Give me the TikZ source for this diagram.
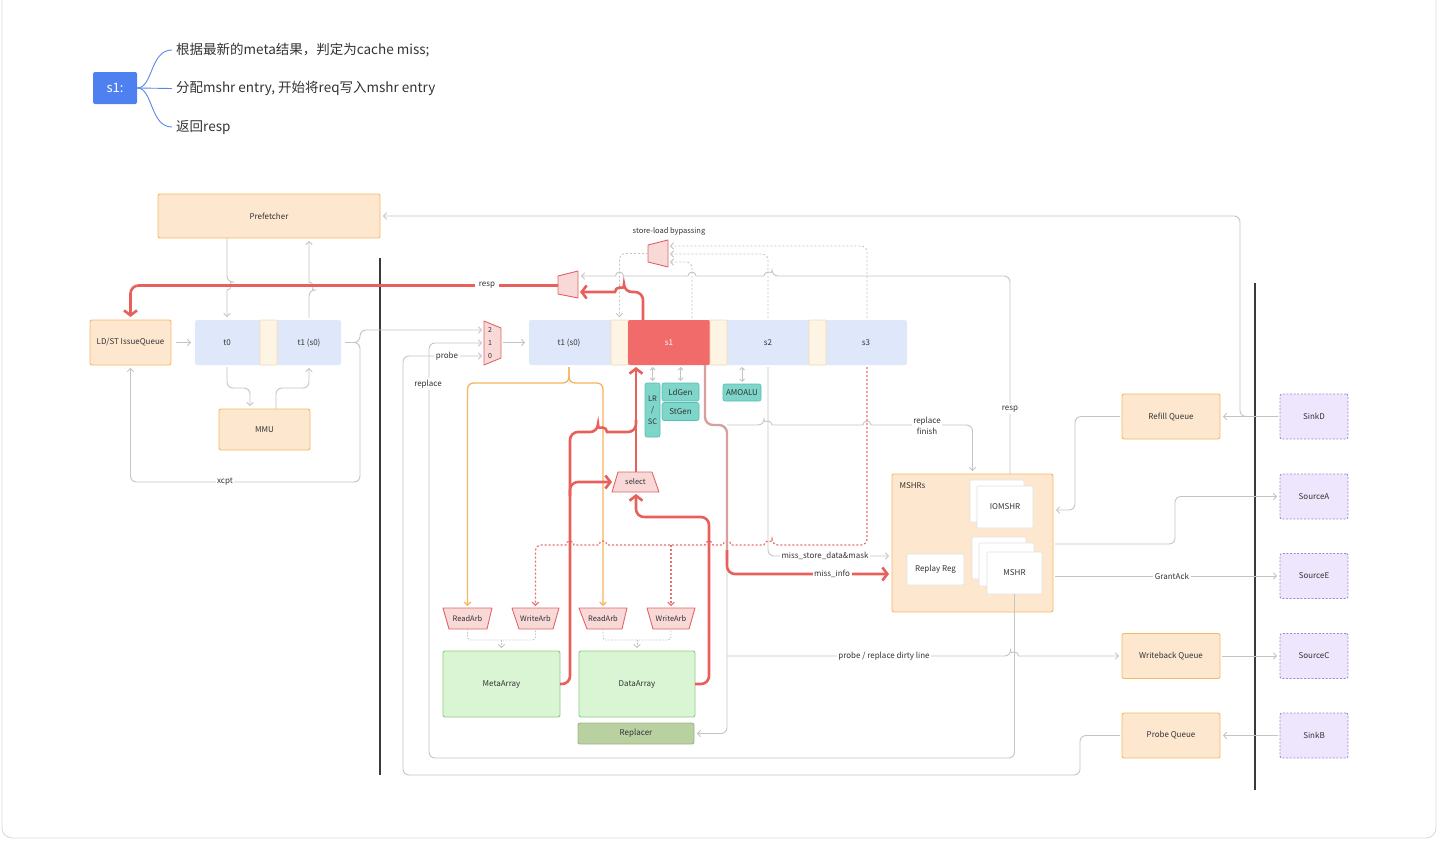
\documentclass[tikz,border=0pt]{standalone}
\usepackage{fontspec}
\setmainfont{Noto Sans CJK SC}
\usetikzlibrary{arrows.meta}
\definecolor{wire}{HTML}{C4C4C4}
\definecolor{hotc}{HTML}{E8605C}
\definecolor{rosec}{HTML}{D9A0A0}
\definecolor{ambc}{HTML}{F5B45F}
\definecolor{ofill}{HTML}{FDE7CF}
\definecolor{oedge}{HTML}{F5B86A}
\definecolor{pipe}{HTML}{DFE8FB}
\definecolor{latch}{HTML}{FDF4E3}
\definecolor{ledge}{HTML}{F3D9B1}
\definecolor{sred}{HTML}{F26B6B}
\definecolor{gfill}{HTML}{DAF5D4}
\definecolor{gedge}{HTML}{8ECB84}
\definecolor{olive}{HTML}{B9D0A1}
\definecolor{oledge}{HTML}{9DB884}
\definecolor{tfill}{HTML}{7ED5CA}
\definecolor{tedge}{HTML}{57BDB0}
\definecolor{vfill}{HTML}{EEE6FD}
\definecolor{vedge}{HTML}{A287D8}
\definecolor{mfill}{HTML}{F9D8D8}
\definecolor{medge}{HTML}{E06666}
\definecolor{ink}{HTML}{333333}
\definecolor{lblue}{HTML}{4F80F0}
\definecolor{lbranch}{HTML}{5B87E8}
\definecolor{framec}{HTML}{DADADA}
\definecolor{wedge}{HTML}{E2E2E2}
\definecolor{divider}{HTML}{3A3A3A}
\tikzset{
  lab/.style={font=\fontsize{8}{9.5}\selectfont, text=ink},
  tag/.style={lab, fill=white, inner sep=1.5pt},
  blk/.style={lab, rounded corners=2pt, inner sep=0pt, outer sep=0pt, line width=0.9pt},
  ob/.style={blk, draw=oedge, fill=ofill},
  vb/.style={blk, draw=vedge, fill=vfill, dash pattern=on 2pt off 1.6pt},
  gb/.style={blk, draw=gedge, fill=gfill},
  tb/.style={blk, draw=tedge, fill=tfill, line width=0.6pt},
  wb/.style={blk, draw=wedge, fill=white, line width=0.6pt, rounded corners=1pt},
  pipeblk/.style={blk, fill=pipe},
  latchbox/.style={blk, fill=latch, draw=ledge, line width=0.6pt, rounded corners=0.5pt, minimum width=17, minimum height=45},
  muxshape/.style={draw=medge, fill=mfill, line width=0.9pt, line join=round},
  cable/.style={draw=wire, line width=0.9pt, rounded corners=6pt},
  carr/.style={cable, -{Straight Barb[length=3pt,width=6.5pt]}},
  cdash/.style={cable, dash pattern=on 2pt off 2pt, -{Straight Barb[length=3pt,width=6.5pt]}},
  hot/.style={draw=hotc, line width=2.6pt, rounded corners=8pt},
  hotarr/.style={hot, -{Straight Barb[length=5pt,width=13pt]}},
  amb/.style={draw=ambc, line width=1.3pt, rounded corners=6pt, -{Straight Barb[length=3pt,width=6.5pt]}},
  dots/.style={draw=hotc!90, line width=1.2pt, dash pattern=on 2pt off 2pt, rounded corners=6pt},
  darr/.style={dots, -{Straight Barb[length=3pt,width=6.5pt]}},
}
\begin{document}
\begin{tikzpicture}[x=1pt,y=-1pt]
\useasboundingbox (0,0) rectangle (1441,841);
% page frame
\draw[framec, line width=0.9pt, rounded corners=10pt] (2,-20) rectangle (1436,838);

% ---------- stage note ----------
\node[fill=lblue, rounded corners=2pt, minimum width=44, minimum height=32, inner sep=0pt,
      text=white, font=\fontsize{13}{14}\selectfont] (leg) at (115,88) {s1:};
\draw[lbranch, line width=0.9pt] (leg.east) .. controls (153,88) and (150,50) .. (172,50);
\draw[lbranch, line width=0.9pt] (leg.east) -- (172,88.5);
\draw[lbranch, line width=0.9pt] (leg.east) .. controls (153,88) and (150,127) .. (172,127);
\node[anchor=west, inner sep=0pt, font=\fontsize{13.5}{15}\selectfont, text=ink] (n1) at (176,50) {根据最新的meta结果，判定为cache miss;};
\node[anchor=west, inner sep=0pt, font=\fontsize{13.5}{15}\selectfont, text=ink] (n2) at (176,88.5) {分配mshr entry, 开始将req写入mshr entry};
\node[anchor=west, inner sep=0pt, font=\fontsize{13.5}{15}\selectfont, text=ink] (n3) at (176,127) {返回resp};

% ---------- dividers ----------
\draw[divider, line width=1.6pt] (380,258) -- (380,775);
\draw[divider, line width=1.6pt] (1255,283) -- (1255,790);

% ---------- front end ----------
\node[ob, minimum width=222, minimum height=44] (pref) at (269,216) {Prefetcher};
\node[ob, minimum width=81, minimum height=45] (lsq) at (130.5,342.5) {LD/ST IssueQueue};
\node[ob, minimum width=91, minimum height=41] (mmu) at (264.5,429.5) {MMU};
\node[pipeblk, minimum width=146, minimum height=45] (front) at (268,342.5) {};
\node[latchbox] (lat0) at (268.5,342.5) {};
\node[lab] (t0) at (227,343) {t0};
\node[lab] (t1a) at (309,343) {t1 (s0)};

% ---------- main pipeline ----------
\node[pipeblk, minimum width=378, minimum height=45] (mainp) at (718,342.5) {};
\node[lab] (t1b) at (569,343) {t1 (s0)};
\node[latchbox] (lat1) at (619.5,342.5) {};
\node[blk, fill=sred, minimum width=82, minimum height=45, text=white] (s1) at (669,342.5) {s1};
\node[latchbox] (lat2) at (718.5,342.5) {};
\node[lab] (s2) at (768,343) {s2};
\node[latchbox] (lat3) at (817.5,342.5) {};
\node[lab] (s3) at (866,343) {s3};

\node[tb, minimum width=15, minimum height=54, align=center, font=\fontsize{7.5}{11.5}\selectfont] (lrsc) at (652.5,410) {LR\\/\\SC};
\node[tb, minimum width=37, minimum height=18] (ldgen) at (680.5,392) {LdGen};
\node[tb, minimum width=37, minimum height=18] (stgen) at (680.5,411.5) {StGen};
\node[tb, minimum width=38, minimum height=17] (amo) at (742,392.5) {AMOALU};

% ---------- muxes ----------
\draw[muxshape] (484,321) -- (501,328) -- (501,358) -- (484,365) -- cycle;
\node[lab, font=\fontsize{7}{8}\selectfont] (m2) at (490,330) {2};
\node[lab, font=\fontsize{7}{8}\selectfont] (m1) at (490,343) {1};
\node[lab, font=\fontsize{7}{8}\selectfont] (m0) at (490,356) {0};
\coordinate (mxin2) at (484,330);
\coordinate (mxin1) at (484,343);
\coordinate (mxin0) at (484,356);
\coordinate (mxout) at (501,342.5);

\draw[muxshape] (558,276) -- (578,271) -- (578,298) -- (558,294) -- cycle;
\coordinate (rmA) at (578,276);
\coordinate (rmB) at (578,292);
\coordinate (rmout) at (558,285.5);

\draw[muxshape] (648,245) -- (668,240) -- (668,267) -- (648,262) -- cycle;
\node[lab, font=\fontsize{7.5}{9}\selectfont] (slb) at (669,231) {store-load bypassing};
\coordinate (bypC) at (668,246);
\coordinate (bypB) at (668,254);
\coordinate (bypA) at (668,262);
\coordinate (bypout) at (648,253.5);

\draw[muxshape] (618,472) -- (652,472) -- (659,492) -- (612,492) -- cycle;
\node[lab, font=\fontsize{7.5}{9}\selectfont] (sel) at (635.5,482) {select};
\coordinate (selT) at (636,472);
\coordinate (selL) at (614,482);
\coordinate (selB) at (636,492);

% ---------- arbiters and arrays ----------
\draw[muxshape] (443,608) -- (492,608) -- (487,629) -- (449,629) -- cycle;
\node[lab, font=\fontsize{7.5}{9}\selectfont] (mra) at (467.5,618.5) {ReadArb};
\draw[muxshape] (512,608) -- (559,608) -- (553,629) -- (519,629) -- cycle;
\node[lab, font=\fontsize{7.5}{9}\selectfont] (mwa) at (535.5,618.5) {WriteArb};
\draw[muxshape] (579,608) -- (627,608) -- (622,629) -- (587,629) -- cycle;
\node[lab, font=\fontsize{7.5}{9}\selectfont] (dra) at (603,618.5) {ReadArb};
\draw[muxshape] (647,608) -- (695,608) -- (689,629) -- (653,629) -- cycle;
\node[lab, font=\fontsize{7.5}{9}\selectfont] (dwa) at (671,618.5) {WriteArb};
\coordinate (mraT) at (467.5,608); \coordinate (mraB) at (467.5,629);
\coordinate (mwaT) at (535.5,608); \coordinate (mwaB) at (535.5,629);
\coordinate (draT) at (603,608);   \coordinate (draB) at (603,629);
\coordinate (dwaT) at (671,608);   \coordinate (dwaB) at (671,629);

\node[gb, minimum width=117, minimum height=66] (meta) at (501.5,684) {MetaArray};
\node[gb, minimum width=116, minimum height=66] (data) at (637,684) {DataArray};
\node[blk, draw=oledge, fill=olive, minimum width=116, minimum height=21] (repl) at (636,733.5) {Replacer};

% ---------- MSHRs ----------
\node[ob, minimum width=161, minimum height=138] (mshrs) at (972.5,543) {};
\node[lab, anchor=west] (mshrsl) at (896,486) {MSHRs};
\node[wb, minimum width=54, minimum height=42] (io0) at (997,501) {};
\node[wb, minimum width=56, minimum height=42] (iom) at (1005,507) {IOMSHR};
\node[wb, minimum width=54, minimum height=42] (ms0) at (999,558) {};
\node[wb, minimum width=55, minimum height=43] (ms1) at (1006.5,564.5) {};
\node[wb, minimum width=55, minimum height=42] (mshr) at (1014.5,573) {MSHR};
\node[wb, minimum width=57, minimum height=31] (rr) at (935.5,569.5) {Replay Reg};

% ---------- queues and channels ----------
\node[ob, minimum width=98, minimum height=45] (refq) at (1171,416.5) {Refill Queue};
\node[ob, minimum width=98, minimum height=45] (wbq) at (1171,656) {Writeback Queue};
\node[ob, minimum width=98, minimum height=45] (prq) at (1171,735.5) {Probe Queue};
\node[vb, minimum width=68, minimum height=45] (sinkd) at (1314,416.5) {SinkD};
\node[vb, minimum width=68, minimum height=45] (srca) at (1314,496.5) {SourceA};
\node[vb, minimum width=68, minimum height=45] (srce) at (1314,576) {SourceE};
\node[vb, minimum width=68, minimum height=45] (srcc) at (1314,656) {SourceC};
\node[vb, minimum width=68, minimum height=45] (sinkb) at (1314,735.5) {SinkB};

% ---------- gray wiring ----------
\draw[carr, shorten <=5pt, shorten >=4pt] (lsq) -- (front);
\draw[carr, shorten >=3pt] (pref.south -| t0) -- (227,282) [sharp corners] arc[start angle=-90,end angle=90,radius=4] -- (front.north -| t0);
\draw[carr, shorten <=2pt, shorten >=3pt] (front.north -| t1a) -- (309,290) [sharp corners] arc[start angle=90,end angle=-90,radius=4] -- (pref.south -| t1a);
\draw[carr, shorten <=2pt, shorten >=3pt] (front.south -| t0) -- (227,388) -- (250,388) -- ([xshift=-14.5pt]mmu.north);
\draw[carr, shorten >=3pt] ([xshift=11.5pt]mmu.north) -- (276,388) -- (309,388) -- (front.south -| t1a);
\draw[carr, shorten >=3pt] ([xshift=4pt]front.east) -- (360,342.5) -- (360,482) -- (130.5,482) -- (lsq.south);
\draw[carr, shorten >=2pt] ([xshift=4pt]front.east) -- (360,342.5) -- (360,330) -- (mxin2);
\draw[carr, shorten <=2pt, shorten >=4pt] (mxout) -- (mainp.west);
\draw[carr, shorten <=2pt, shorten >=2pt] (prq.west) -- (1080,735.5) -- (1080,775) -- (403,775) -- (403,356) -- (mxin0);
\draw[carr, shorten >=2pt] (mshr.south) -- (1014.5,758) -- (429,758) -- (429,343) -- (mxin1);
\draw[carr, shorten >=3pt] ([xshift=37.5pt]mshrs.north) -- (1010,276) -- (772,276) [sharp corners]
   arc[start angle=0,end angle=-180,radius=4] -- (696,276)
   arc[start angle=0,end angle=-180,radius=4] -- (623.5,276)
   arc[start angle=0,end angle=-180,radius=4] -- (rmA);
\draw[carr, shorten <=2pt, shorten >=3pt] (sinkd.west) -- (1240,416.5) -- (1240,216) -- (pref.east);
\draw[carr, shorten <=2pt, shorten >=3pt] (sinkd.west) -- (refq.east);
\draw[carr, shorten <=2pt, shorten >=3pt] (refq.west) -- (1075,416.5) -- (1075,510) -- ([yshift=33pt]mshrs.east);
\draw[carr, shorten <=2pt, shorten >=3pt] ([yshift=-1pt]mshrs.east) -- (1175,544) -- (1175,496.5) -- (srca.west);
\draw[carr, shorten <=2pt, shorten >=3pt] ([yshift=-33pt]mshrs.east) -- (srce.west);
\draw[carr, shorten <=2pt, shorten >=3pt] (wbq) -- (srcc);
\draw[carr, shorten <=2pt, shorten >=3pt] (sinkb) -- (prq);
\draw[carr, shorten >=3pt] (727,425) -- (764,425) [sharp corners]
   arc[start angle=180,end angle=360,radius=4] -- (863,425)
   arc[start angle=180,end angle=360,radius=4] -- (930,425) [rounded corners=6pt] -- (972.5,425) -- (mshrs.north);
\draw[carr, shorten <=2pt, shorten >=3pt] (mainp.south -| s2) -- (768,556) -- ([yshift=-13pt]mshrs.west);
\draw[carr, shorten >=3pt] (727,570) -- (727,733.5) -- (repl.east);
\draw[carr, shorten >=3pt] (727,656) -- (1010.5,656) [sharp corners] arc[start angle=180,end angle=360,radius=4] -- (wbq.west);
\draw[cable, {Straight Barb[length=2.5pt,width=5pt]}-{Straight Barb[length=2.5pt,width=5pt]}, shorten <=2pt, shorten >=2pt] (s1.south -| lrsc) -- (lrsc.north);
\draw[cable, {Straight Barb[length=2.5pt,width=5pt]}-{Straight Barb[length=2.5pt,width=5pt]}, shorten <=2pt, shorten >=2pt] (s1.south -| ldgen) -- (ldgen.north);
\draw[cable, {Straight Barb[length=2.5pt,width=5pt]}-{Straight Barb[length=2.5pt,width=5pt]}, shorten <=2pt, shorten >=2pt] (mainp.south -| amo) -- (amo.north);

% store-load bypassing
\draw[cdash, shorten <=2pt, shorten >=2pt] ([xshift=23pt]s1.north) -- (692,262) -- (bypA);
\draw[cdash, shorten <=2pt, shorten >=2pt] (mainp.north -| s2) -- (768,254) -- (bypB);
\draw[cdash, shorten <=2pt, shorten >=2pt] (mainp.north -| 867,0) -- (867,246) -- (bypC);
\draw[cdash, shorten >=3pt] (bypout) -- (619.5,253.5) -- (lat1.north);

% arbiters into arrays
\draw[cable, rounded corners=3pt, dash pattern=on 1.5pt off 1.5pt] (mraB) -- (467.5,640) -- (535.5,640) -- (mwaB);
\draw[cdash, dash pattern=on 1.5pt off 1.5pt, shorten >=3pt] (501.5,640) -- (meta.north);
\draw[cable, rounded corners=3pt, dash pattern=on 1.5pt off 1.5pt] (draB) -- (603,640) -- (671,640) -- (dwaB);
\draw[cdash, dash pattern=on 1.5pt off 1.5pt, shorten >=3pt] (637,640) -- (data.north);

% ---------- orange read requests ----------
\draw[amb, shorten <=2pt, shorten >=2pt] (mainp.south -| t1b) -- (569,383) -- (467.5,383) -- (mraT);
\draw[amb, shorten <=2pt, shorten >=2pt] (mainp.south -| t1b) -- (569,383) -- (603,383) -- (draT);

% ---------- dotted write requests ----------
\draw[darr, shorten <=2pt, shorten >=2pt] (mainp.south -| 867,0) -- (867,545) -- (772,545) [sharp corners]
   arc[start angle=0,end angle=-180,radius=4] -- (731,545)
   arc[start angle=0,end angle=-180,radius=4] -- (713,545)
   arc[start angle=0,end angle=-180,radius=4] -- (607,545)
   arc[start angle=0,end angle=-180,radius=4] -- (574,545)
   arc[start angle=0,end angle=-180,radius=4] -- (552,545) [rounded corners=6pt] -- (535.5,545) -- (mwaT);
\draw[darr, shorten >=2pt] (671,545) -- (dwaT);

% ---------- highlighted paths ----------
\draw[rosec, line width=2.4pt, rounded corners=8pt] ([xshift=36pt]s1.south) -- (705,425) -- (727,425) -- (727,562);
\draw[hotarr, shorten >=3pt] (727,550) -- (727,574) -- ([yshift=-31pt]mshrs.west);
\draw[hotarr, shorten >=2pt] ([xshift=-26pt]s1.north) -- (643,292) -- (624,292) [sharp corners]
   arc[start angle=0,end angle=-180,radius=4.5] -- (rmB);
\draw[hotarr, shorten >=3pt] (rmout) -- (130.5,285.5) -- (lsq.north);
\draw[hotarr, shorten >=2pt] (selT) -- ([xshift=-33pt]s1.south);
\draw[hot] (meta.east) -- (570,684) -- (570,432) -- (598,432) [sharp corners]
   arc[start angle=180,end angle=360,radius=4.5] -- (612,432) [rounded corners=8pt] -- (636,432) -- (636,420);
\draw[hotarr, shorten >=2pt] (570,496) -- (570,482) -- (selL);
\draw[hotarr, shorten >=2pt] (data.east) -- (709,684) -- (709,517) -- (636,517) -- (selB);

% ---------- wire labels ----------
\node[tag] (lxcpt) at (225,482) {xcpt};
\node[tag] (lprobe) at (447,356) {probe};
\node[tag] (lrepl) at (428,384) {replace};
\node[tag, inner xsep=4pt] (lresp1) at (487,285.5) {resp};
\node[tag] (lresp2) at (1010,409) {resp};
\node[tag, align=center, font=\fontsize{8}{11}\selectfont] (lrf) at (927,426) {replace\\finish};
\node[tag] (lmsd) at (825,556) {miss\_store\_data\&mask};
\node[tag] (lmi) at (832,574) {miss\_info};
\node[tag] (lpr) at (884,656) {probe / replace dirty line};
\node[tag] (lga) at (1172,576) {GrantAck};
\end{tikzpicture}
\end{document}
